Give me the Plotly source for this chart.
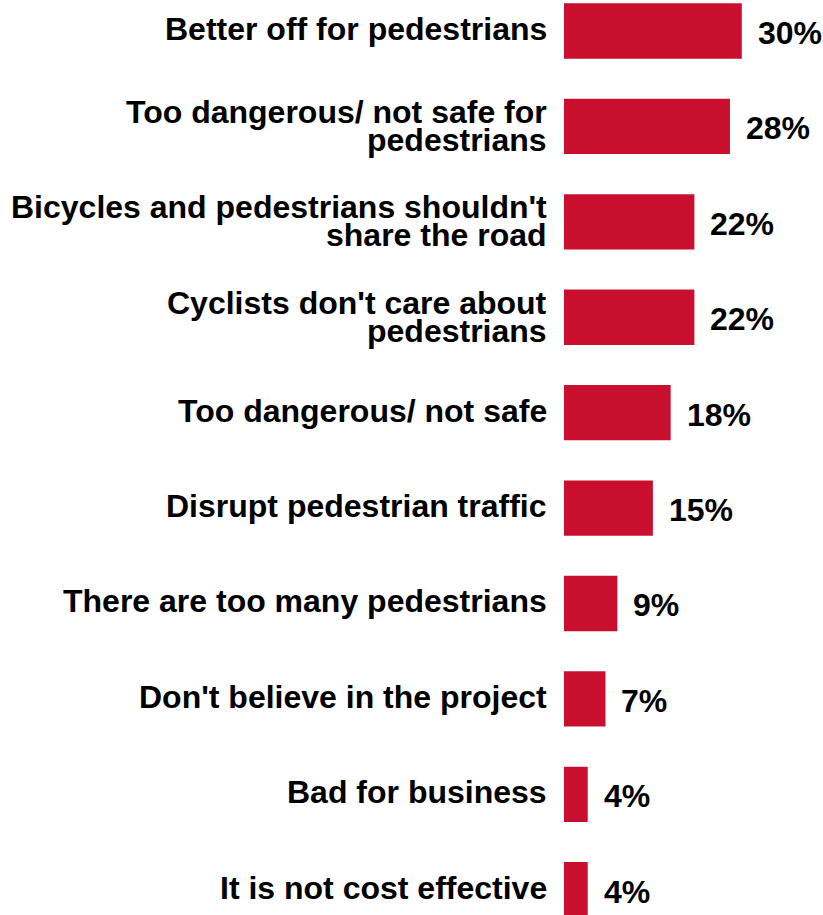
import plotly.graph_objects as go

reasons = [
    "Better off for pedestrians",
    "Too dangerous/ not safe for<br>pedestrians",
    "Bicycles and pedestrians shouldn't<br>share the road",
    "Cyclists don't care about<br>pedestrians",
    "Too dangerous/ not safe",
    "Disrupt pedestrian traffic",
    "There are too many pedestrians",
    "Don't believe in the project",
    "Bad for business",
    "It is not cost effective",
]
shares = [30, 28, 22, 22, 18, 15, 9, 7, 4, 4]

font = dict(family="Liberation Sans, Arial, sans-serif", size=32, color="black")

fig = go.Figure(go.Bar(
    x=shares, y=reasons, orientation="h",
    marker=dict(color="#C8102E", line=dict(width=0)),
    width=0.58,
))

for r, s in zip(reasons, shares):
    fig.add_annotation(x=s, y=r, text=f"<b>{s}%</b>", showarrow=False,
                       xanchor="left", xshift=14, yshift=-2, font=font)
    # category labels, drawn line by line to keep the tight line spacing
    lines = r.split("<br>")
    offsets = [2] if len(lines) == 1 else [14.5, -13.5]
    for line, off in zip(lines, offsets):
        fig.add_annotation(x=0, xref="paper", y=r, text=f"<b>{line}</b>",
                           showarrow=False, xanchor="right", xshift=-15,
                           yshift=off, font=font)

fig.update_layout(
    width=823, height=915,
    margin=dict(l=564, r=0, t=0, b=0),
    plot_bgcolor="white", paper_bgcolor="white",
    showlegend=False,
    font=font,
)
fig.update_xaxes(range=[0, 43.7], visible=False)
fig.update_yaxes(range=[9.265, -0.325], showticklabels=False, automargin=False,
                 showgrid=False, showline=False, ticks="")

# drop the default 8px body margin so the figure fills the window exactly
fig.write_html("out.html", config={"displayModeBar": False},
               post_script="document.body.style.margin = '0';")
